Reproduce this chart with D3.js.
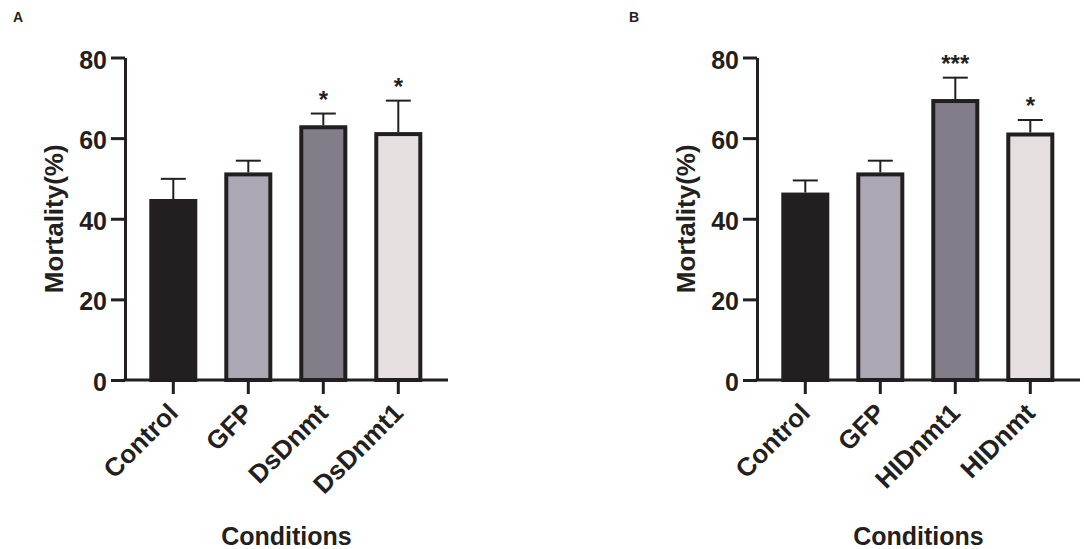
<!DOCTYPE html>
<html>
<head>
<meta charset="utf-8">
<script src="https://cdn.jsdelivr.net/npm/d3@7"></script>
<style>
  body { margin: 0; background: #fff; }
  svg { display: block; font-family: 'Liberation Sans', Arial, sans-serif; font-weight: bold; }
</style>
</head>
<body>
<svg></svg>
<script>
const WIDTH = 1084;
const HEIGHT = 549;

// panel A
const categoriesA = ['Control', 'GFP', 'DsDnmt', 'DsDnmt1'];
const valuesA = [44.4, 51.0, 62.7, 61.0];
const errorsA = [5.5, 3.4, 3.4, 8.3];
const starsA = ['', '', '*', '*'];

// panel B
const categoriesB = ['Control', 'GFP', 'HIDnmt1', 'HIDnmt'];
const valuesB = [46.0, 51.0, 69.2, 60.9];
const errorsB = [3.5, 3.4, 5.8, 3.6];
const starsB = ['', '', '***', '*'];

const yTicks = [0, 20, 40, 60, 80];
const fills = ['#231f20', '#aba7b3', '#837d8a', '#e5dfe0'];
const INK = '#231f20';

function drawPanel(svg, opts) {
  const g = svg.append('g');
  const x0 = opts.axisX;
  const y = d3.scaleLinear().domain([0, 80]).range([380, 57.5]);
  // four bands of 75px, bars 44px wide (48 with stroke)
  const x = d3.scaleBand()
      .domain(opts.categories)
      .range([x0 + 10.8, x0 + 310.8])
      .paddingInner(0.413)
      .paddingOuter(0.2065);
  const xEnd = x0 + 323;

  // bars
  g.selectAll('rect.bar')
      .data(opts.values)
    .enter().append('rect')
      .attr('class', 'bar')
      .attr('x', (d, i) => x(opts.categories[i]))
      .attr('y', (d) => y(d))
      .attr('width', x.bandwidth())
      .attr('height', (d) => y(0) - y(d))
      .attr('fill', (d, i) => fills[i])
      .attr('stroke', INK)
      .attr('stroke-width', 4);

  // upper error bars
  const cx = (i) => x(opts.categories[i]) + x.bandwidth() / 2;
  const err = g.selectAll('g.err')
      .data(opts.values)
    .enter().append('g')
      .attr('class', 'err')
      .attr('stroke', INK)
      .attr('stroke-width', 2);
  err.append('line')
      .attr('x1', (d, i) => cx(i))
      .attr('x2', (d, i) => cx(i))
      .attr('y1', (d) => y(d) - 2)
      .attr('y2', (d, i) => y(d + opts.errors[i]));
  err.append('line')
      .attr('x1', (d, i) => cx(i) - 12.5)
      .attr('x2', (d, i) => cx(i) + 12.5)
      .attr('y1', (d, i) => y(d + opts.errors[i]))
      .attr('y2', (d, i) => y(d + opts.errors[i]));

  // significance stars
  g.selectAll('text.star')
      .data(opts.values)
    .enter().append('text')
      .attr('class', 'star')
      .attr('x', (d, i) => cx(i))
      .attr('y', (d, i) => y(d + opts.errors[i]) - 6)
      .attr('text-anchor', 'middle')
      .style('font-size', '24px')
      .attr('fill', INK)
      .text((d, i) => opts.stars[i]);

  // y axis
  const yAxis = g.append('g')
      .attr('transform', `translate(${x0},0)`)
      .call(d3.axisLeft(y).tickValues(yTicks).tickSize(14).tickSizeOuter(0).tickPadding(4));
  yAxis.selectAll('path, line').attr('stroke', INK).attr('stroke-width', 3);
  yAxis.selectAll('text')
      .attr('dy', '0.42em')
      .attr('fill', INK)
      .style('font-size', '25px')
      .style('font-family', null);

  // x axis
  const xAxis = g.append('g')
      .attr('transform', 'translate(0,380)')
      .call(d3.axisBottom(x).tickSize(14).tickSizeOuter(0).tickFormat(''));
  xAxis.select('.domain').remove();
  xAxis.selectAll('line').attr('stroke', INK).attr('stroke-width', 3);
  xAxis.append('line')
      .attr('x1', x0 - 1.5)
      .attr('x2', xEnd)
      .attr('stroke', INK)
      .attr('stroke-width', 3);

  g.selectAll('text.xlabel')
      .data(opts.categories)
    .enter().append('text')
      .attr('class', 'xlabel')
      .attr('transform', (d) => `translate(${x(d) + x.bandwidth() / 2},394) rotate(-45)`)
      .attr('dx', -10)
      .attr('dy', 19)
      .attr('text-anchor', 'end')
      .attr('fill', INK)
      .style('font-size', '26px')
      .text((d) => d);

  // axis titles
  g.append('text')
      .attr('transform', `translate(${x0 - 62},${(57.5 + 380) / 2}) rotate(-90)`)
      .attr('text-anchor', 'middle')
      .attr('fill', INK)
      .style('font-size', '26px')
      .text('Mortality(%)');
  g.append('text')
      .attr('x', (x0 + xEnd) / 2)
      .attr('y', 545)
      .attr('text-anchor', 'middle')
      .attr('fill', INK)
      .style('font-size', '25px')
      .text('Conditions');

  // panel letter
  g.append('text')
      .attr('x', opts.letterX)
      .attr('y', 22)
      .attr('fill', INK)
      .style('font-size', '14px')
      .text(opts.letter);
}

const svg = d3.select('svg')
    .attr('width', WIDTH)
    .attr('height', HEIGHT);

drawPanel(svg, {
  axisX: 125,
  categories: categoriesA,
  values: valuesA,
  errors: errorsA,
  stars: starsA,
  letter: 'A',
  letterX: 13,
});

drawPanel(svg, {
  axisX: 757,
  categories: categoriesB,
  values: valuesB,
  errors: errorsB,
  stars: starsB,
  letter: 'B',
  letterX: 629,
});
</script>
</body>
</html>
